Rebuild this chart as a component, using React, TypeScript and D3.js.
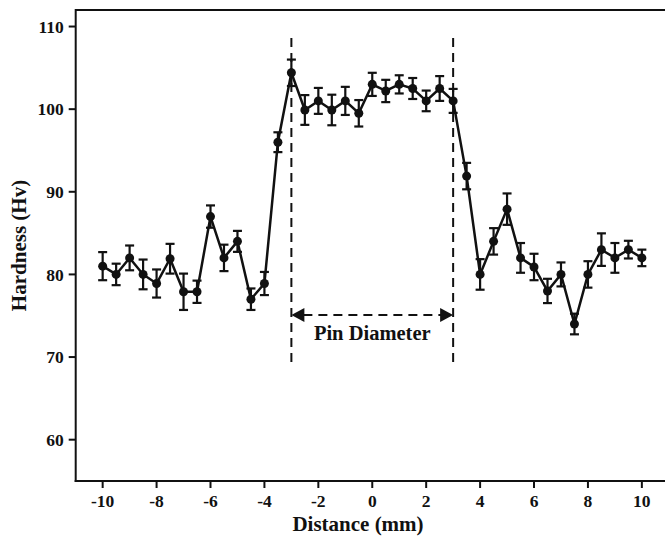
import React from "react";
import * as d3 from "d3";

const distance = [
  -10, -9.5, -9, -8.5, -8, -7.5, -7, -6.5, -6, -5.5, -5, -4.5, -4, -3.5, -3, -2.5, -2, -1.5, -1, -0.5,
  0, 0.5, 1, 1.5, 2, 2.5, 3, 3.5, 4, 4.5, 5, 5.5, 6, 6.5, 7, 7.5, 8, 8.5, 9, 9.5, 10,
];
const hardness = [
  81, 80, 82, 80, 78.9, 81.9, 77.9, 77.9, 87, 82, 84, 77, 78.9, 96, 104.4, 99.9, 101, 99.9, 101, 99.5,
  103, 102.2, 103, 102.5, 101, 102.5, 101, 91.9, 80, 84, 87.9, 82, 80.9, 78, 80, 74, 80, 83, 82, 83, 82,
];
const errors = [
  1.7, 1.3, 1.5, 1.8, 1.7, 1.8, 2.2, 1.35, 1.35, 1.6, 1.27, 1.3, 1.4, 1.2, 1.6, 1.8, 1.57, 1.85, 1.7, 1.6,
  1.4, 1.35, 1.1, 1.27, 1.25, 1.5, 1.45, 1.6, 1.85, 1.6, 1.9, 1.8, 1.6, 1.47, 1.45, 1.25, 1.6, 1.97, 1.8, 1.07, 1.0,
];
const xTicks = [-10, -8, -6, -4, -2, 0, 2, 4, 6, 8, 10];
const yTicks = [60, 70, 80, 90, 100, 110];
const pinEdges = [-3, 3];
const pinLabel = "Pin Diameter";
const xTitle = "Distance (mm)";
const yTitle = "Hardness (Hv)";

const W = 665;
const H = 541;
const FONT = "'Liberation Serif', 'Times New Roman', serif";

export default function App() {
  const x = d3.scaleLinear().domain([-11, 11]).range([75.7, 75.7 + 22 * 26.96]);
  const y = d3.scaleLinear().domain([55, 112]).range([481, 10]);
  const data = distance.map((d, i) => ({ x: d, y: hardness[i], e: errors[i] }));
  const line = d3
    .line<{ x: number; y: number }>()
    .x((d) => x(d.x))
    .y((d) => y(d.y));
  const left = x(-11);
  const bottom = y(55);
  const top = y(112);
  const right = W + 10;
  const arrowY = 315;
  const xl = x(pinEdges[0]);
  const xr = x(pinEdges[1]);

  return (
    <svg
      width={W}
      height={H}
      style={{ position: "absolute", left: 0, top: 0, background: "#fff" }}
      fontFamily={FONT}
    >
      <rect x={0} y={0} width={W} height={H} fill="#fff" />
      {/* frame */}
      <line x1={left} x2={right} y1={top} y2={top} stroke="#111" strokeWidth={2} />
      <line x1={left} x2={left} y1={top - 1} y2={bottom + 1} stroke="#111" strokeWidth={2} />
      <line x1={left - 1} x2={right} y1={bottom} y2={bottom} stroke="#111" strokeWidth={2} />
      {/* y ticks */}
      {yTicks.map((t) => (
        <g key={"y" + t}>
          <line x1={left - 7} x2={left} y1={y(t)} y2={y(t)} stroke="#111" strokeWidth={2} />
          <text
            x={left - 12}
            y={y(t)}
            dy="0.35em"
            textAnchor="end"
            fontSize={17.5}
            fontWeight="bold"
            fill="#111"
          >
            {t}
          </text>
        </g>
      ))}
      {/* x ticks */}
      {xTicks.map((t) => (
        <g key={"x" + t}>
          <line x1={x(t)} x2={x(t)} y1={bottom} y2={bottom + 7} stroke="#111" strokeWidth={2} />
          <text
            x={x(t)}
            y={bottom + 26}
            textAnchor="middle"
            fontSize={17.5}
            fontWeight="bold"
            fill="#111"
          >
            {t}
          </text>
        </g>
      ))}
      <text
        x={358}
        y={531}
        textAnchor="middle"
        fontSize={21}
        fontWeight="bold"
        fill="#111"
      >
        {xTitle}
      </text>
      <text
        transform={`translate(26, ${y(83.5)}) rotate(-90)`}
        textAnchor="middle"
        fontSize={21}
        fontWeight="bold"
        fill="#111"
      >
        {yTitle}
      </text>
      {/* pin diameter dashed lines */}
      {pinEdges.map((p) => (
        <line
          key={"p" + p}
          x1={x(p)}
          x2={x(p)}
          y1={38}
          y2={366}
          stroke="#111"
          strokeWidth={2}
          strokeDasharray="9,6"
        />
      ))}
      <line
        x1={xl + 12}
        x2={xr - 12}
        y1={arrowY}
        y2={arrowY}
        stroke="#111"
        strokeWidth={2}
        strokeDasharray="9,6"
      />
      <path d={`M${xl},${arrowY} L${xl + 13},${arrowY - 7} L${xl + 13},${arrowY + 7} Z`} fill="#111" />
      <path d={`M${xr},${arrowY} L${xr - 13},${arrowY - 7} L${xr - 13},${arrowY + 7} Z`} fill="#111" />
      <text
        x={(xl + xr) / 2}
        y={340}
        textAnchor="middle"
        fontSize={20.5}
        fontWeight="bold"
        fill="#111"
      >
        {pinLabel}
      </text>
      {/* error bars */}
      {data.map((d, i) => (
        <g key={"e" + i} stroke="#111" strokeWidth={2.2}>
          <line x1={x(d.x)} x2={x(d.x)} y1={y(d.y - d.e)} y2={y(d.y + d.e)} />
          <line x1={x(d.x) - 4.5} x2={x(d.x) + 4.5} y1={y(d.y - d.e)} y2={y(d.y - d.e)} />
          <line x1={x(d.x) - 4.5} x2={x(d.x) + 4.5} y1={y(d.y + d.e)} y2={y(d.y + d.e)} />
        </g>
      ))}
      <path d={line(data) || ""} fill="none" stroke="#111" strokeWidth={2.5} />
      {data.map((d, i) => (
        <circle key={"c" + i} cx={x(d.x)} cy={y(d.y)} r={4.5} fill="#111" />
      ))}
    </svg>
  );
}
